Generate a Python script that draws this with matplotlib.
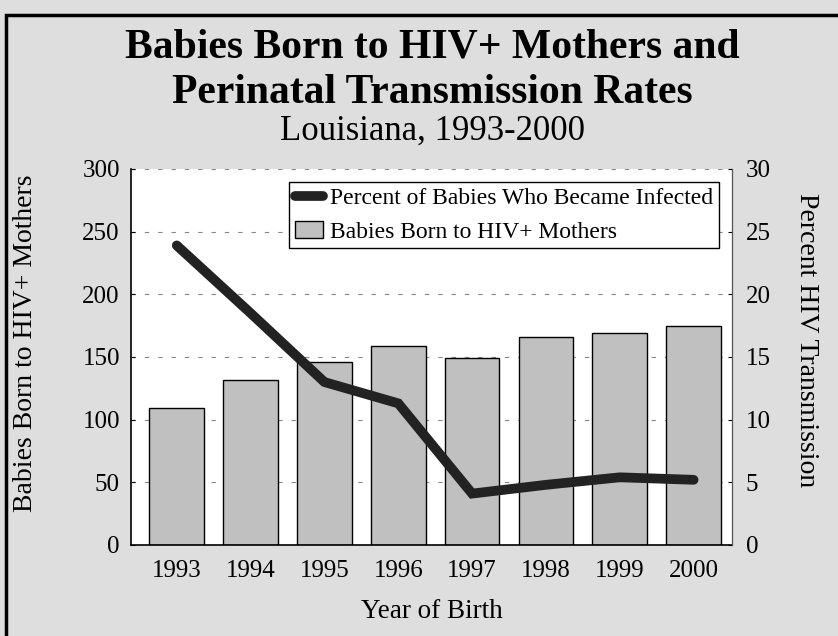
import matplotlib.pyplot as plt
from matplotlib.patches import Rectangle
from matplotlib.lines import Line2D
import numpy as np

# --- Data ---
years = ['1993', '1994', '1995', '1996', '1997', '1998', '1999', '2000']
babies_born = [109, 132, 146, 159, 149, 166, 169, 175]
pct_infected = [23.9, 18.5, 13.0, 11.3, 4.1, 4.8, 5.4, 5.2]

BG = '#dedede'
BAR = '#c0c0c0'
LINE = '#222222'

plt.rcParams['font.family'] = ['Liberation Serif', 'DejaVu Serif']

fig = plt.figure(figsize=(8.38, 6.36), dpi=100, facecolor=BG)

# border (top and left only show in the crop)
fig.add_artist(Rectangle((0.0075, -0.05), 1.1, 1.027, transform=fig.transFigure,
                         fill=False, edgecolor='black', linewidth=2.5))

ax = fig.add_axes([0.1563, 0.1431, 0.7172, 0.5912])
ax.set_facecolor('white')
x = np.arange(len(years))

ax.set_axisbelow(True)
ax.yaxis.grid(True, linestyle=(0, (4, 8)), color='#888888', linewidth=0.8)
bars = ax.bar(x, babies_born, width=0.74, color=BAR, edgecolor='black', linewidth=1.0, zorder=2)
ax.set_ylim(0, 300)
ax.set_xlim(-0.62, 7.52)
ax.set_yticks(range(0, 301, 50))
ax.set_xticks(x)
ax.set_xticklabels(years)
ax.tick_params(axis='both', labelsize=18, direction='in', length=3, colors='black')
ax.tick_params(axis='y', pad=8)
ax.tick_params(axis='x', length=0, pad=11)
ax.set_xlabel('Year of Birth', fontsize=19.5, labelpad=12)
ax.set_ylabel('Babies Born to HIV+ Mothers', fontsize=20, labelpad=32)
ax.yaxis.label.set_y(0.537)
ax.spines['top'].set_visible(False)
for s in ['left', 'bottom']:
    ax.spines[s].set_linewidth(1.2)

ax2 = ax.twinx()
line, = ax2.plot(x, pct_infected, color=LINE, linewidth=7, solid_capstyle='round',
                 solid_joinstyle='miter', zorder=3)
ax2.set_ylim(0, 30)
ax2.set_yticks(range(0, 31, 5))
ax2.tick_params(axis='y', labelsize=18, direction='in', length=3, pad=10)
ax2.set_ylabel('Percent HIV Transmission', fontsize=20, rotation=270, labelpad=35)
ax2.yaxis.label.set_y(0.545)
ax2.spines['top'].set_visible(False)
ax2.spines['left'].set_visible(False)
ax2.spines['bottom'].set_visible(False)
ax2.spines['right'].set_color('#555555')

handles = [Line2D([0], [0], color=LINE, linewidth=7, solid_capstyle='round'),
           Rectangle((0, 0), 1, 1, facecolor=BAR, edgecolor='black', linewidth=1.0)]
leg = ax2.legend(handles, ['Percent of Babies Who Became Infected', 'Babies Born to HIV+ Mothers'],
                 loc='upper right', bbox_to_anchor=(0.978, 0.965), fontsize=17,
                 frameon=True, fancybox=False, edgecolor='black', framealpha=1,
                 handlelength=1.2, handletextpad=0.3, borderpad=0.24, labelspacing=0.5,
                 borderaxespad=0)
leg.get_frame().set_linewidth(1.0)

fig.text(0.516, 0.925, 'Babies Born to HIV+ Mothers and', ha='center', va='center',
         fontsize=30, fontweight='bold')
fig.text(0.516, 0.853, 'Perinatal Transmission Rates', ha='center', va='center',
         fontsize=30, fontweight='bold')
fig.text(0.516, 0.793, 'Louisiana, 1993-2000', ha='center', va='center', fontsize=25)

fig.savefig('out.png', dpi=100, facecolor=BG)
